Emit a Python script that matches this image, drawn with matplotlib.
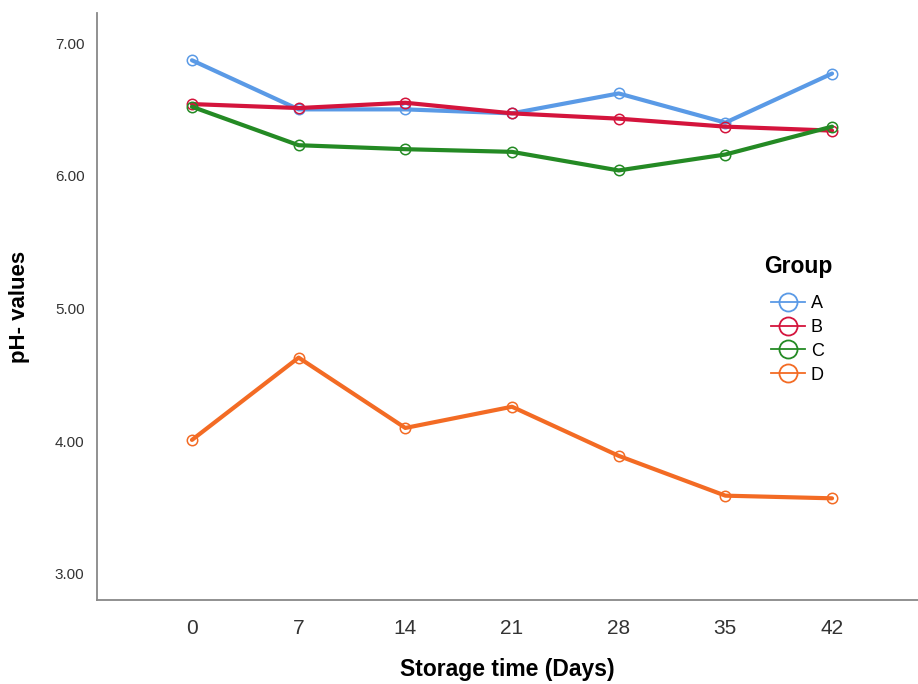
import matplotlib
matplotlib.use('Agg')
import matplotlib.pyplot as plt
from matplotlib.lines import Line2D

plt.rcParams['font.family'] = ['Liberation Sans', 'DejaVu Sans']

days = [0, 7, 14, 21, 28, 35, 42]
groups = ['A', 'B', 'C', 'D']
ph_a = [6.87, 6.50, 6.50, 6.47, 6.62, 6.40, 6.77]
ph_b = [6.54, 6.51, 6.55, 6.47, 6.43, 6.37, 6.34]
ph_c = [6.52, 6.23, 6.20, 6.18, 6.04, 6.16, 6.37]
ph_d = [4.01, 4.63, 4.10, 4.26, 3.89, 3.59, 3.57]
colors = ['#5a9ae6', '#d4143c', '#248a24', '#f36b24']
yticks = [3.0, 4.0, 5.0, 6.0, 7.0]

fig = plt.figure(figsize=(9.18, 6.84), dpi=100)
ax = fig.add_axes([97/918, 84/684, 821/918, 587/684])

handles = []
for vals, col, name in zip([ph_a, ph_b, ph_c, ph_d], colors, groups):
    ax.plot(days, vals, color=col, lw=3, marker='o', ms=7.5,
            mfc='none', mec=col, mew=1.1, solid_capstyle='round')
    handles.append(Line2D([], [], color=col, lw=1.3, marker='o', ms=13,
                          mfc='none', mec=col, mew=1.3, label=name))

ax.set_xlim(-6.23, 47.64)
ax.set_ylim(2.804, 7.226)
ax.set_xticks(days)
ax.set_xticklabels([str(d) for d in days], fontsize=15, color='#333333')
ax.set_yticks(yticks)
ax.set_yticklabels(['%.2f' % v for v in yticks], fontsize=11, color='#333333')
ax.tick_params(length=0)
ax.tick_params(axis='x', pad=14)
ax.tick_params(axis='y', pad=9)

for side in ['top', 'right']:
    ax.spines[side].set_visible(False)
for side in ['left', 'bottom']:
    ax.spines[side].set_color('#888888')
    ax.spines[side].set_linewidth(1.3)

ax.set_xlabel('Storage time (Days)', fontsize=16.5, fontweight='bold', labelpad=14)
ax.set_ylabel('pH- values', fontsize=16, fontweight='bold')
ax.yaxis.set_label_coords(-67/821, 0.5)

# legend: title placed as its own text, entries below it
fig.text(798/918, 1 - 267/684, 'Group', fontsize=16.5, fontweight='bold',
         ha='center', va='center')
leg = ax.legend(handles=handles, frameon=False, fontsize=13,
                loc='upper left', bbox_to_anchor=(762/918, 1 - 286/684),
                bbox_transform=fig.transFigure, handlelength=1.9,
                handletextpad=0.3, labelspacing=0.38, borderpad=0)

fig.savefig('out.png', dpi=100)
